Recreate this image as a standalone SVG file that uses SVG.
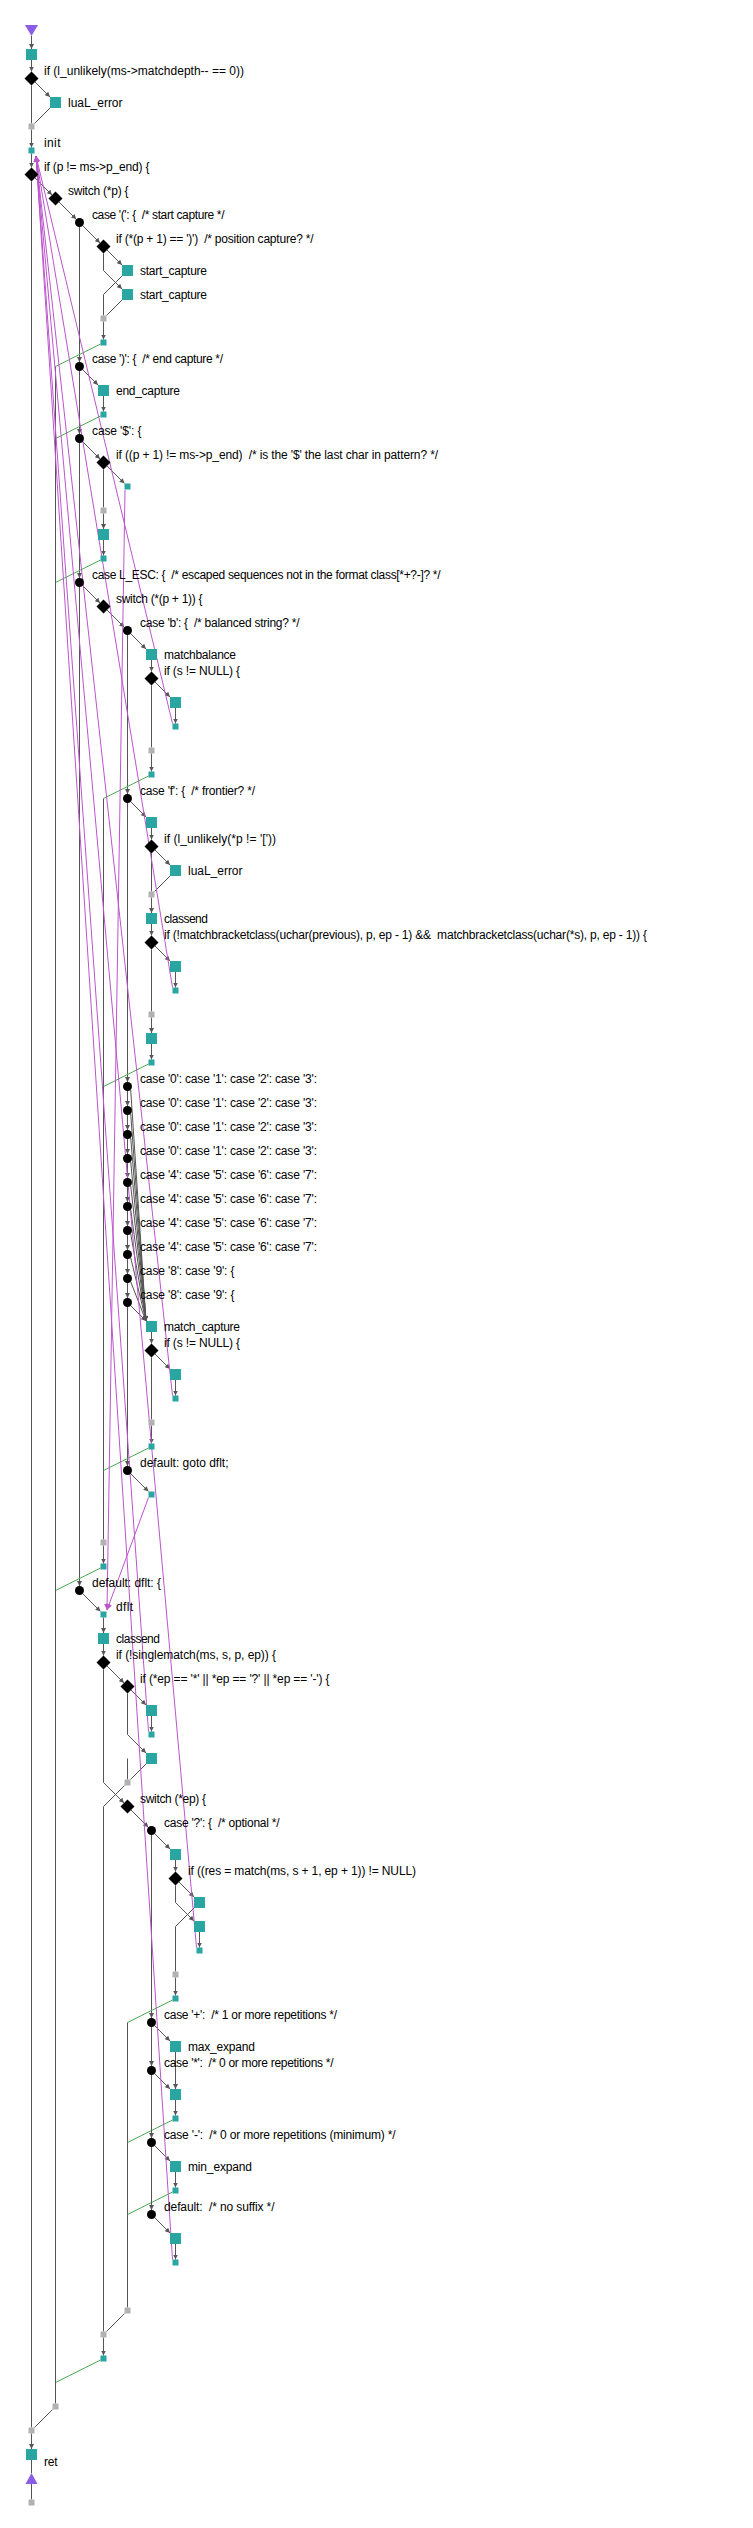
<svg xmlns="http://www.w3.org/2000/svg" width="753" height="2528" viewBox="0 0 753 2528">
<style>
text{font-family:"Liberation Sans",Arial,sans-serif;font-size:12px;fill:#000;white-space:pre}
.e{fill:none;stroke:#555;stroke-width:1;marker-end:url(#a)}
.m{fill:none;stroke:#555;stroke-width:1}
.g{fill:none;stroke:#4caf50;stroke-width:1}
.p{fill:none;stroke:#bb55cc;stroke-width:1;marker-end:url(#ap)}
</style>
<defs>
<marker id="a" viewBox="0 0 6 6" refX="6" refY="3" markerWidth="5" markerHeight="5" orient="auto" markerUnits="userSpaceOnUse"><path d="M0,0L6,3L0,6z" fill="#555"/></marker>
<marker id="ap" viewBox="0 0 6 6" refX="6" refY="3" markerWidth="6" markerHeight="6" orient="auto" markerUnits="userSpaceOnUse"><path d="M0,0L6,3L0,6z" fill="#bb55cc"/></marker>
<rect id="B" x="-5.5" y="-5.5" width="11" height="11" fill="#29a5a2"/>
<rect id="S" x="-3" y="-3" width="6" height="6" fill="#29a5a2"/>
<rect id="G" x="-3" y="-3" width="6" height="6" fill="#b2b2b2"/>
<polygon id="D" points="0,-7 7,0 0,7 -7,0" fill="#000"/>
<circle id="C" r="4.5" fill="#000"/>
</defs>
<rect width="753" height="2528" fill="#fff"/>
<g id="edges">
<path class="e" d="M31.5,36V49"/>
<path class="e" d="M31.5,60V71.5"/>
<path class="m" d="M31.5,85.5V123.5"/>
<path class="e" d="M35,82L50,97"/>
<path class="m" d="M50,108L34.5,123.5"/>
<path class="e" d="M31.5,129.5V147.5"/>
<path class="e" d="M31.5,153.5V167.5"/>
<path class="e" d="M35,178L52,195"/>
<path class="m" d="M31.5,181.5V2427.5"/>
<path class="e" d="M59,202L76.3,219.3"/>
<path class="e" d="M82.7,225.7L100,243"/>
<path class="e" d="M79.5,227V362"/>
<path class="e" d="M107,250L122,265"/>
<path class="e" d="M103.5,253.5V270.5L122,289"/>
<path class="m" d="M122,276L103.5,294.5V315.5"/>
<path class="m" d="M122,300L106.5,315.5"/>
<path class="e" d="M103.5,321.5V339.5"/>
<path class="g" d="M100.5,344L55.5,366.5"/>
<path class="e" d="M82.7,369.7L98,385"/>
<path class="e" d="M79.5,371V434"/>
<path class="e" d="M103.5,396V411.5"/>
<path class="g" d="M100.5,416L55.5,438.5"/>
<path class="e" d="M82.7,441.7L100,459"/>
<path class="e" d="M79.5,443V578"/>
<path class="e" d="M107,466L124.5,483.5"/>
<path class="m" d="M103.5,469.5V507.5"/>
<path class="e" d="M103.5,513.5V529"/>
<path class="e" d="M103.5,540V555.5"/>
<path class="g" d="M100.5,560L55.5,582.5"/>
<path class="e" d="M82.7,585.7L100,603"/>
<path class="e" d="M79.5,587V1586"/>
<path class="e" d="M107,610L124.3,627.3"/>
<path class="e" d="M130.7,633.7L146,649"/>
<path class="e" d="M127.5,635V794"/>
<path class="e" d="M151.5,660V671.5"/>
<path class="e" d="M155,682L170,697"/>
<path class="e" d="M175.5,708V723.5"/>
<path class="m" d="M151.5,685.5V747.5"/>
<path class="e" d="M151.5,753.5V771.5"/>
<path class="g" d="M148.5,776L103.5,798.5"/>
<path class="m" d="M103.5,798.5V1539.5"/>
<path class="e" d="M130.7,801.7L146,817"/>
<path class="e" d="M127.5,803V1082"/>
<path class="e" d="M151.5,828V839.5"/>
<path class="e" d="M155,850L170,865"/>
<path class="m" d="M170,876L154.5,891.5"/>
<path class="m" d="M151.5,853.5V891.5"/>
<path class="e" d="M151.5,897.5V913"/>
<path class="e" d="M151.5,924V935.5"/>
<path class="e" d="M155,946L170,961"/>
<path class="e" d="M175.5,972V987.5"/>
<path class="m" d="M151.5,949.5V1011.5"/>
<path class="e" d="M151.5,1017.5V1033"/>
<path class="e" d="M151.5,1044V1059.5"/>
<path class="g" d="M148.5,1064L103.5,1086.5"/>
<path class="e" d="M127.5,1091V1106"/>
<path class="e" d="M127.5,1115V1130"/>
<path class="e" d="M127.5,1139V1154"/>
<path class="e" d="M127.5,1163V1178"/>
<path class="e" d="M127.5,1187V1202"/>
<path class="e" d="M127.5,1211V1226"/>
<path class="e" d="M127.5,1235V1250"/>
<path class="e" d="M127.5,1259V1274"/>
<path class="e" d="M127.5,1283V1298"/>
<path class="e" d="M127.5,1307V1466"/>
<path class="e" d="M130.7,1089.7L146,1321"/>
<path class="e" d="M130.7,1113.7L146,1321"/>
<path class="e" d="M130.7,1137.7L146,1321"/>
<path class="e" d="M130.7,1161.7L146,1321"/>
<path class="e" d="M130.7,1185.7L146,1321"/>
<path class="e" d="M130.7,1209.7L146,1321"/>
<path class="e" d="M130.7,1233.7L146,1321"/>
<path class="e" d="M130.7,1257.7L146,1321"/>
<path class="e" d="M130.7,1281.7L146,1321"/>
<path class="e" d="M130.7,1305.7L146,1321"/>
<path class="e" d="M151.5,1332V1343.5"/>
<path class="e" d="M155,1354L170,1369"/>
<path class="e" d="M175.5,1380V1395.5"/>
<path class="m" d="M151.5,1357.5V1419.5"/>
<path class="e" d="M151.5,1425.5V1443.5"/>
<path class="g" d="M148.5,1448L103.5,1470.5"/>
<path class="e" d="M130.7,1473.7L148.5,1491.5"/>
<path class="e" d="M103.5,1545.5V1563.5"/>
<path class="g" d="M100.5,1568L55.5,1590.5"/>
<path class="e" d="M82.7,1593.7L100.5,1611.5"/>
<path class="e" d="M103.5,1617.5V1633"/>
<path class="e" d="M103.5,1644V1655.5"/>
<path class="e" d="M107,1666L124,1683"/>
<path class="e" d="M131,1690L146,1705"/>
<path class="e" d="M151.5,1716V1731.5"/>
<path class="e" d="M127.5,1693.5V1734.5L146,1753"/>
<path class="m" d="M146,1764L130.5,1779.5"/>
<path class="m" d="M127.5,1758.5V1779.5"/>
<path class="e" d="M103.5,1669.5V1782.5L124,1803"/>
<path class="m" d="M124.5,1785.5L103.5,1806.5V2331.5"/>
<path class="e" d="M131,1810L148.3,1827.3"/>
<path class="e" d="M154.7,1833.7L170,1849"/>
<path class="e" d="M151.5,1835V2018"/>
<path class="e" d="M175.5,1860V1871.5"/>
<path class="e" d="M179,1882L194,1897"/>
<path class="e" d="M175.5,1885.5V1902.5L194,1921"/>
<path class="m" d="M194,1908L175.5,1926.5V1971.5"/>
<path class="e" d="M199.5,1932V1947.5"/>
<path class="e" d="M175.5,1977.5V1995.5"/>
<path class="g" d="M172.5,2000L127.5,2022.5"/>
<path class="m" d="M127.5,2022.5V2307.5"/>
<path class="e" d="M154.7,2025.7L170,2041"/>
<path class="e" d="M151.5,2027V2066"/>
<path class="e" d="M175.5,2052V2089"/>
<path class="e" d="M154.7,2073.7L170,2089"/>
<path class="e" d="M175.5,2100V2115.5"/>
<path class="g" d="M172.5,2120L127.5,2142.5"/>
<path class="e" d="M151.5,2075V2138"/>
<path class="e" d="M154.7,2145.7L170,2161"/>
<path class="e" d="M175.5,2172V2187.5"/>
<path class="g" d="M172.5,2192L127.5,2214.5"/>
<path class="e" d="M151.5,2147V2210"/>
<path class="e" d="M154.7,2217.7L170,2233"/>
<path class="e" d="M175.5,2244V2259.5"/>
<path class="m" d="M124.5,2313.5L106.5,2331.5"/>
<path class="e" d="M103.5,2337.5V2355.5"/>
<path class="g" d="M100.5,2360L55.5,2382.5"/>
<path class="m" d="M55.5,366.5V2403.5"/>
<path class="m" d="M52.5,2409.5L34.5,2427.5"/>
<path class="e" d="M31.5,2433.5V2449"/>
<path class="m" d="M31.5,2460V2473"/>
<path class="m" d="M31.5,2484V2499.5"/>
<path class="p" d="M125,490L107,1610"/>
<path class="p" d="M148.5,1497.5L107,1610"/>
<path class="p" d="M172.5,723.5L36,156"/>
<path class="p" d="M172.5,987.5L36,156"/>
<path class="p" d="M172.5,1395.5L36,156"/>
<path class="p" d="M148.5,1731.5L36,156"/>
<path class="p" d="M196.5,1947.5L36,156"/>
<path class="p" d="M172.5,2259.5L36,156"/>
</g>
<g id="n0"><polygon points="25,25 38,25 31.5,36" fill="#8b5ce6"/></g>
<g id="n1"><use href="#B" x="31.5" y="54.5"/></g>
<g id="n2"><use href="#D" x="31.5" y="78.5"/><text x="44" y="74.5" textLength="200" lengthAdjust="spacing">if (l_unlikely(ms-&gt;matchdepth-- == 0))</text></g>
<g id="n3"><use href="#B" x="55.5" y="102.5"/><text x="68" y="106.5" textLength="54.5" lengthAdjust="spacing">luaL_error</text></g>
<g id="n4"><use href="#G" x="31.5" y="126.5"/></g>
<g id="n5"><use href="#S" x="31.5" y="150.5"/><text x="44" y="146.5" textLength="16.5" lengthAdjust="spacing">init</text></g>
<g id="n6"><use href="#D" x="31.5" y="174.5"/><text x="44" y="170.5" textLength="105.5" lengthAdjust="spacing">if (p != ms-&gt;p_end) {</text></g>
<g id="n7"><use href="#D" x="55.5" y="198.5"/><text x="68" y="194.5" textLength="60.5" lengthAdjust="spacing">switch (*p) {</text></g>
<g id="n8"><use href="#C" x="79.5" y="222.5"/><text x="92" y="218.5" textLength="132.5" lengthAdjust="spacing">case '(': {  /* start capture */</text></g>
<g id="n9"><use href="#D" x="103.5" y="246.5"/><text x="116" y="242.5" textLength="197.5" lengthAdjust="spacing">if (*(p + 1) == ')')  /* position capture? */</text></g>
<g id="n10"><use href="#B" x="127.5" y="270.5"/><text x="140" y="274.5" textLength="67" lengthAdjust="spacing">start_capture</text></g>
<g id="n11"><use href="#B" x="127.5" y="294.5"/><text x="140" y="298.5" textLength="67" lengthAdjust="spacing">start_capture</text></g>
<g id="n12"><use href="#G" x="103.5" y="318.5"/></g>
<g id="n13"><use href="#S" x="103.5" y="342.5"/></g>
<g id="n14"><use href="#C" x="79.5" y="366.5"/><text x="92" y="362.5" textLength="131" lengthAdjust="spacing">case ')': {  /* end capture */</text></g>
<g id="n15"><use href="#B" x="103.5" y="390.5"/><text x="116" y="394.5" textLength="64" lengthAdjust="spacing">end_capture</text></g>
<g id="n16"><use href="#S" x="103.5" y="414.5"/></g>
<g id="n17"><use href="#C" x="79.5" y="438.5"/><text x="92" y="434.5" textLength="49.5" lengthAdjust="spacing">case '$': {</text></g>
<g id="n18"><use href="#D" x="103.5" y="462.5"/><text x="116" y="458.5" textLength="322" lengthAdjust="spacing">if ((p + 1) != ms-&gt;p_end)  /* is the '$' the last char in pattern? */</text></g>
<g id="n19"><use href="#S" x="127.5" y="486.5"/></g>
<g id="n20"><use href="#G" x="103.5" y="510.5"/></g>
<g id="n21"><use href="#B" x="103.5" y="534.5"/></g>
<g id="n22"><use href="#S" x="103.5" y="558.5"/></g>
<g id="n23"><use href="#C" x="79.5" y="582.5"/><text x="92" y="578.5" textLength="348.5" lengthAdjust="spacing">case L_ESC: {  /* escaped sequences not in the format class[*+?-]? */</text></g>
<g id="n24"><use href="#D" x="103.5" y="606.5"/><text x="116" y="602.5" textLength="86.5" lengthAdjust="spacing">switch (*(p + 1)) {</text></g>
<g id="n25"><use href="#C" x="127.5" y="630.5"/><text x="140" y="626.5" textLength="159.5" lengthAdjust="spacing">case 'b': {  /* balanced string? */</text></g>
<g id="n26"><use href="#B" x="151.5" y="654.5"/><text x="164" y="658.5" textLength="72" lengthAdjust="spacing">matchbalance</text></g>
<g id="n27"><use href="#D" x="151.5" y="678.5"/><text x="164" y="674.5" textLength="76" lengthAdjust="spacing">if (s != NULL) {</text></g>
<g id="n28"><use href="#B" x="175.5" y="702.5"/></g>
<g id="n29"><use href="#S" x="175.5" y="726.5"/></g>
<g id="n30"><use href="#G" x="151.5" y="750.5"/></g>
<g id="n31"><use href="#S" x="151.5" y="774.5"/></g>
<g id="n32"><use href="#C" x="127.5" y="798.5"/><text x="140" y="794.5" textLength="115" lengthAdjust="spacing">case 'f': {  /* frontier? */</text></g>
<g id="n33"><use href="#B" x="151.5" y="822.5"/></g>
<g id="n34"><use href="#D" x="151.5" y="846.5"/><text x="164" y="842.5" textLength="112" lengthAdjust="spacing">if (l_unlikely(*p != '['))</text></g>
<g id="n35"><use href="#B" x="175.5" y="870.5"/><text x="188" y="874.5" textLength="54.5" lengthAdjust="spacing">luaL_error</text></g>
<g id="n36"><use href="#G" x="151.5" y="894.5"/></g>
<g id="n37"><use href="#B" x="151.5" y="918.5"/><text x="164" y="922.5" textLength="44" lengthAdjust="spacing">classend</text></g>
<g id="n38"><use href="#D" x="151.5" y="942.5"/><text x="164" y="938.5" textLength="483" lengthAdjust="spacing">if (!matchbracketclass(uchar(previous), p, ep - 1) &amp;&amp;  matchbracketclass(uchar(*s), p, ep - 1)) {</text></g>
<g id="n39"><use href="#B" x="175.5" y="966.5"/></g>
<g id="n40"><use href="#S" x="175.5" y="990.5"/></g>
<g id="n41"><use href="#G" x="151.5" y="1014.5"/></g>
<g id="n42"><use href="#B" x="151.5" y="1038.5"/></g>
<g id="n43"><use href="#S" x="151.5" y="1062.5"/></g>
<g id="n44"><use href="#C" x="127.5" y="1086.5"/><text x="140" y="1082.5" textLength="177" lengthAdjust="spacing">case '0': case '1': case '2': case '3':</text></g>
<g id="n45"><use href="#C" x="127.5" y="1110.5"/><text x="140" y="1106.5" textLength="177" lengthAdjust="spacing">case '0': case '1': case '2': case '3':</text></g>
<g id="n46"><use href="#C" x="127.5" y="1134.5"/><text x="140" y="1130.5" textLength="177" lengthAdjust="spacing">case '0': case '1': case '2': case '3':</text></g>
<g id="n47"><use href="#C" x="127.5" y="1158.5"/><text x="140" y="1154.5" textLength="177" lengthAdjust="spacing">case '0': case '1': case '2': case '3':</text></g>
<g id="n48"><use href="#C" x="127.5" y="1182.5"/><text x="140" y="1178.5" textLength="177" lengthAdjust="spacing">case '4': case '5': case '6': case '7':</text></g>
<g id="n49"><use href="#C" x="127.5" y="1206.5"/><text x="140" y="1202.5" textLength="177" lengthAdjust="spacing">case '4': case '5': case '6': case '7':</text></g>
<g id="n50"><use href="#C" x="127.5" y="1230.5"/><text x="140" y="1226.5" textLength="177" lengthAdjust="spacing">case '4': case '5': case '6': case '7':</text></g>
<g id="n51"><use href="#C" x="127.5" y="1254.5"/><text x="140" y="1250.5" textLength="177" lengthAdjust="spacing">case '4': case '5': case '6': case '7':</text></g>
<g id="n52"><use href="#C" x="127.5" y="1278.5"/><text x="140" y="1274.5" textLength="94.5" lengthAdjust="spacing">case '8': case '9': {</text></g>
<g id="n53"><use href="#C" x="127.5" y="1302.5"/><text x="140" y="1298.5" textLength="94.5" lengthAdjust="spacing">case '8': case '9': {</text></g>
<g id="n54"><use href="#B" x="151.5" y="1326.5"/><text x="164" y="1330.5" textLength="76" lengthAdjust="spacing">match_capture</text></g>
<g id="n55"><use href="#D" x="151.5" y="1350.5"/><text x="164" y="1346.5" textLength="76" lengthAdjust="spacing">if (s != NULL) {</text></g>
<g id="n56"><use href="#B" x="175.5" y="1374.5"/></g>
<g id="n57"><use href="#S" x="175.5" y="1398.5"/></g>
<g id="n58"><use href="#G" x="151.5" y="1422.5"/></g>
<g id="n59"><use href="#S" x="151.5" y="1446.5"/></g>
<g id="n60"><use href="#C" x="127.5" y="1470.5"/><text x="140" y="1466.5" textLength="88.5" lengthAdjust="spacing">default: goto dflt;</text></g>
<g id="n61"><use href="#S" x="151.5" y="1494.5"/></g>
<g id="n63"><use href="#G" x="103.5" y="1542.5"/></g>
<g id="n64"><use href="#S" x="103.5" y="1566.5"/></g>
<g id="n65"><use href="#C" x="79.5" y="1590.5"/><text x="92" y="1586.5" textLength="69" lengthAdjust="spacing">default: dflt: {</text></g>
<g id="n66"><use href="#S" x="103.5" y="1614.5"/><text x="116" y="1610.5" textLength="17" lengthAdjust="spacing">dflt</text></g>
<g id="n67"><use href="#B" x="103.5" y="1638.5"/><text x="116" y="1642.5" textLength="44" lengthAdjust="spacing">classend</text></g>
<g id="n68"><use href="#D" x="103.5" y="1662.5"/><text x="116" y="1658.5" textLength="160" lengthAdjust="spacing">if (!singlematch(ms, s, p, ep)) {</text></g>
<g id="n69"><use href="#D" x="127.5" y="1686.5"/><text x="140" y="1682.5" textLength="189.5" lengthAdjust="spacing">if (*ep == '*' || *ep == '?' || *ep == '-') {</text></g>
<g id="n70"><use href="#B" x="151.5" y="1710.5"/></g>
<g id="n71"><use href="#S" x="151.5" y="1734.5"/></g>
<g id="n72"><use href="#B" x="151.5" y="1758.5"/></g>
<g id="n73"><use href="#G" x="127.5" y="1782.5"/></g>
<g id="n74"><use href="#D" x="127.5" y="1806.5"/><text x="140" y="1802.5" textLength="66" lengthAdjust="spacing">switch (*ep) {</text></g>
<g id="n75"><use href="#C" x="151.5" y="1830.5"/><text x="164" y="1826.5" textLength="115.5" lengthAdjust="spacing">case '?': {  /* optional */</text></g>
<g id="n76"><use href="#B" x="175.5" y="1854.5"/></g>
<g id="n77"><use href="#D" x="175.5" y="1878.5"/><text x="188" y="1874.5" textLength="228" lengthAdjust="spacing">if ((res = match(ms, s + 1, ep + 1)) != NULL)</text></g>
<g id="n78"><use href="#B" x="199.5" y="1902.5"/></g>
<g id="n79"><use href="#B" x="199.5" y="1926.5"/></g>
<g id="n80"><use href="#S" x="199.5" y="1950.5"/></g>
<g id="n81"><use href="#G" x="175.5" y="1974.5"/></g>
<g id="n82"><use href="#S" x="175.5" y="1998.5"/></g>
<g id="n83"><use href="#C" x="151.5" y="2022.5"/><text x="164" y="2018.5" textLength="173" lengthAdjust="spacing">case '+':  /* 1 or more repetitions */</text></g>
<g id="n84"><use href="#B" x="175.5" y="2046.5"/><text x="188" y="2050.5" textLength="67" lengthAdjust="spacing">max_expand</text></g>
<g id="n85"><use href="#C" x="151.5" y="2070.5"/><text x="164" y="2066.5" textLength="169.5" lengthAdjust="spacing">case '*':  /* 0 or more repetitions */</text></g>
<g id="n86"><use href="#B" x="175.5" y="2094.5"/></g>
<g id="n87"><use href="#S" x="175.5" y="2118.5"/></g>
<g id="n88"><use href="#C" x="151.5" y="2142.5"/><text x="164" y="2138.5" textLength="231.5" lengthAdjust="spacing">case '-':  /* 0 or more repetitions (minimum) */</text></g>
<g id="n89"><use href="#B" x="175.5" y="2166.5"/><text x="188" y="2170.5" textLength="64" lengthAdjust="spacing">min_expand</text></g>
<g id="n90"><use href="#S" x="175.5" y="2190.5"/></g>
<g id="n91"><use href="#C" x="151.5" y="2214.5"/><text x="164" y="2210.5" textLength="110.5" lengthAdjust="spacing">default:  /* no suffix */</text></g>
<g id="n92"><use href="#B" x="175.5" y="2238.5"/></g>
<g id="n93"><use href="#S" x="175.5" y="2262.5"/></g>
<g id="n95"><use href="#G" x="127.5" y="2310.5"/></g>
<g id="n96"><use href="#G" x="103.5" y="2334.5"/></g>
<g id="n97"><use href="#S" x="103.5" y="2358.5"/></g>
<g id="n99"><use href="#G" x="55.5" y="2406.5"/></g>
<g id="n100"><use href="#G" x="31.5" y="2430.5"/></g>
<g id="n101"><use href="#B" x="31.5" y="2454.5"/><text x="44" y="2466" textLength="13.5" lengthAdjust="spacing">ret</text></g>
<g id="n102"><polygon points="31.5,2473 25.5,2484 37.5,2484" fill="#8b5ce6"/></g>
<g id="n103"><use href="#G" x="31.5" y="2502.5"/></g>
</svg>
